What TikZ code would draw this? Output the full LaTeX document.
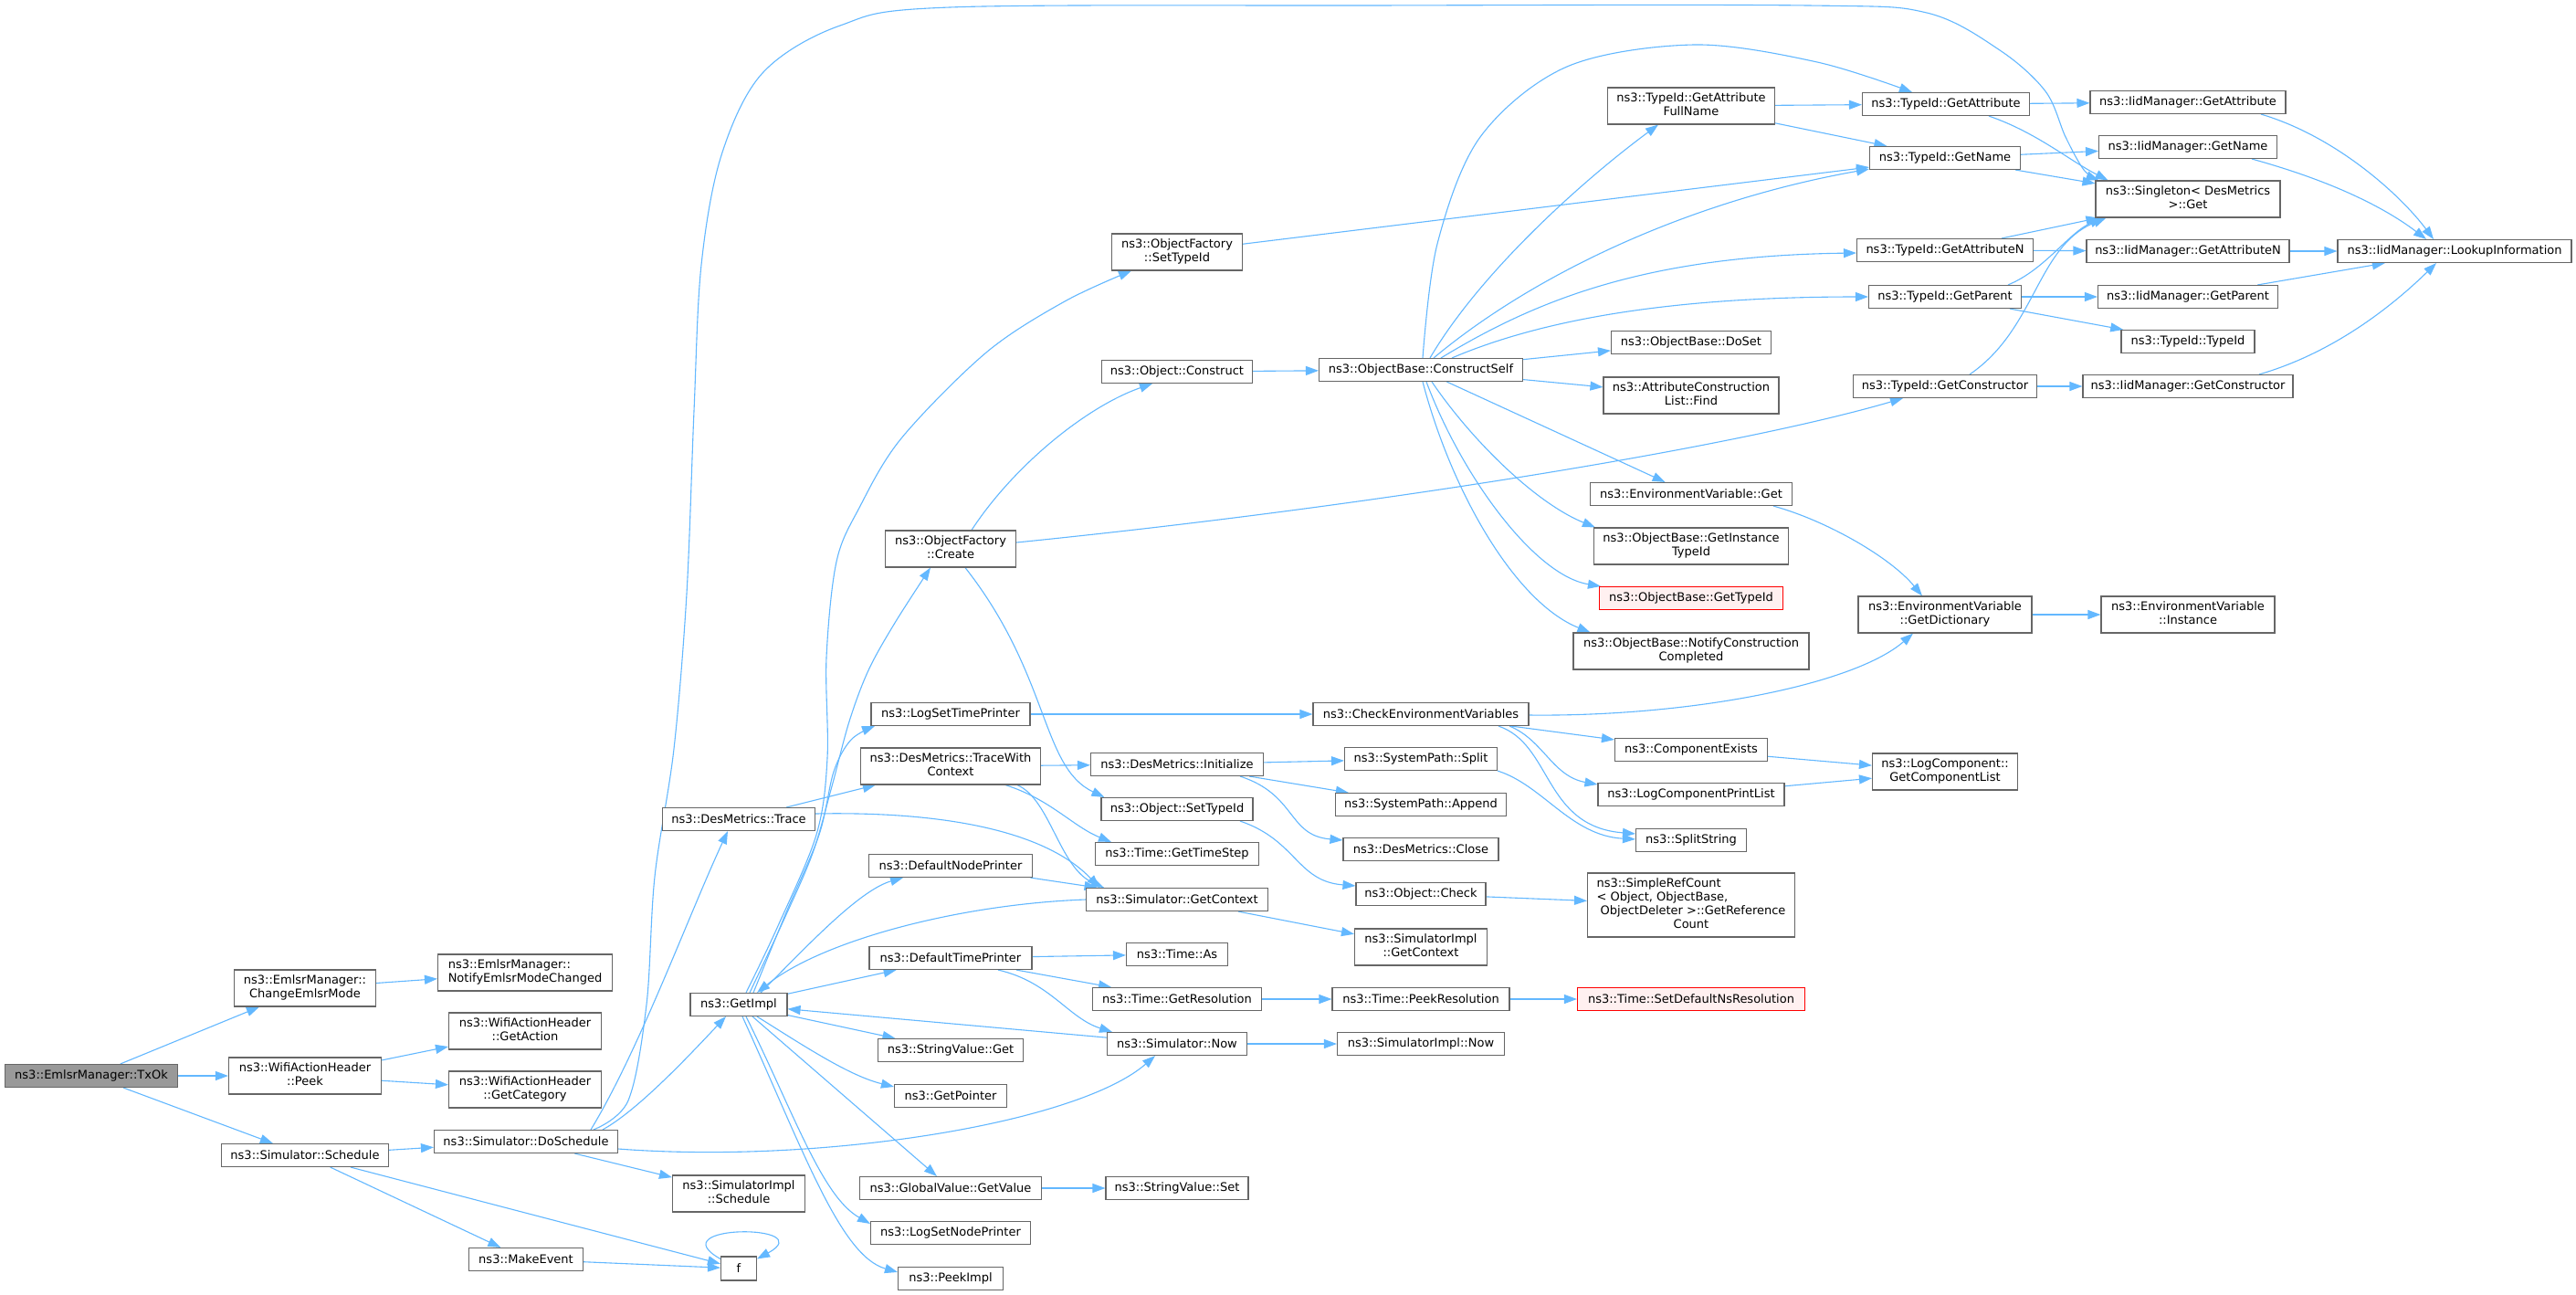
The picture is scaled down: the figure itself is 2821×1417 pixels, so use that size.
\documentclass[tikz,border=0pt]{standalone}
\usepackage{fontspec}
\setmainfont{DejaVu Sans}
\usetikzlibrary{arrows.meta}
\definecolor{edgeblue}{HTML}{63B8FF}
\definecolor{boxgray}{HTML}{666666}
\definecolor{rootfill}{HTML}{999999}
\definecolor{redfill}{HTML}{FFF0F0}
\newcommand{\ml}[2]{\begin{tabular}{@{}l@{}}#1\\\multicolumn{1}{@{}c@{}}{#2}\end{tabular}}
\pgfdeclarelayer{bg}
\pgfsetlayers{bg,main}
\begin{document}
\begin{tikzpicture}[x=1pt,y=-1pt,
  fn/.style={draw=boxgray, fill=white, line width=1.1pt, inner sep=0pt, minimum height=25pt,
    font=\fontsize{13pt}{15pt}\selectfont, text=black},
  two/.style={minimum height=40pt},
  wd/.style={minimum width=#1pt},
  rootnode/.style={fill=rootfill},
  missing/.style={draw=red, fill=redfill},
  call/.style={draw=edgeblue, line width=1.1pt, -{Triangle[length=14pt,width=10pt]}},
]
% ---------- nodes ----------
\node[fn,rootnode,wd=189] (txok) at (100,1178) {ns3::EmlsrManager::TxOk};
\node[fn,two,wd=155] (chg) at (334,1082) {\ml{ns3::EmlsrManager::}{ChangeEmlsrMode}};
\node[fn,two,wd=167] (peek) at (334,1178) {\ml{ns3::WifiActionHeader}{::Peek}};
\node[fn,wd=183] (sched) at (334,1265) {ns3::Simulator::Schedule};
\node[fn,two,wd=191] (notify) at (575,1065) {\ml{ns3::EmlsrManager::}{NotifyEmlsrModeChanged}};
\node[fn,two,wd=167] (getact) at (575,1129) {\ml{ns3::WifiActionHeader}{::GetAction}};
\node[fn,two,wd=167] (getcat) at (575,1193) {\ml{ns3::WifiActionHeader}{::GetCategory}};
\node[fn,wd=201] (dosched) at (576,1250) {ns3::Simulator::DoSchedule};
\node[fn,wd=125] (mkev) at (576,1379) {ns3::MakeEvent};
\node[fn,wd=167] (dtrace) at (809,897) {ns3::DesMetrics::Trace};
\node[fn,wd=106] (getimpl) at (809,1100) {ns3::GetImpl};
\node[fn,two,wd=145] (sisched) at (809,1307) {\ml{ns3::SimulatorImpl}{::Schedule}};
\node[fn,wd=39,minimum height=26pt] (ff) at (809,1389) {f};
\node[fn,two,wd=143] (create) at (1041,601) {\ml{ns3::ObjectFactory}{::Create}};
\node[fn,wd=174] (lstp) at (1041,782) {ns3::LogSetTimePrinter};
\node[fn,two,wd=197] (twc) at (1041,839) {\ml{ns3::DesMetrics::TraceWith}{Context}};
\node[fn,wd=179] (dnp) at (1041,948) {ns3::DefaultNodePrinter};
\node[fn,wd=178] (dtp) at (1041,1049) {ns3::DefaultTimePrinter};
\node[fn,wd=159] (svget) at (1041,1150) {ns3::StringValue::Get};
\node[fn,wd=123] (getptr) at (1041,1200) {ns3::GetPointer};
\node[fn,wd=199] (gvget) at (1041,1301) {ns3::GlobalValue::GetValue};
\node[fn,wd=175] (lsnp) at (1041,1350) {ns3::LogSetNodePrinter};
\node[fn,wd=115] (peekimpl) at (1041,1400) {ns3::PeekImpl};
\node[fn,two,wd=143] (ofsti) at (1289,276) {\ml{ns3::ObjectFactory}{::SetTypeId}};
\node[fn,wd=165] (oconstruct) at (1289,407) {ns3::Object::Construct};
\node[fn,wd=189] (init) at (1289,837) {ns3::DesMetrics::Initialize};
\node[fn,wd=166] (osti) at (1289,886) {ns3::Object::SetTypeId};
\node[fn,wd=179] (gts) at (1289,935) {ns3::Time::GetTimeStep};
\node[fn,wd=199] (sgc) at (1289,985) {ns3::Simulator::GetContext};
\node[fn,wd=111] (tas) at (1289,1045) {ns3::Time::As};
\node[fn,wd=185] (getres) at (1289,1094) {ns3::Time::GetResolution};
\node[fn,wd=153] (simnow) at (1289,1143) {ns3::Simulator::Now};
\node[fn,wd=156] (svset) at (1289,1301) {ns3::StringValue::Set};
\node[fn,wd=223] (cself) at (1556,405) {ns3::ObjectBase::ConstructSelf};
\node[fn,wd=236] (checkenv) at (1556,782) {ns3::CheckEnvironmentVariables};
\node[fn,wd=167] (split) at (1556,831) {ns3::SystemPath::Split};
\node[fn,wd=187] (append) at (1556,881) {ns3::SystemPath::Append};
\node[fn,wd=170] (close) at (1556,930) {ns3::DesMetrics::Close};
\node[fn,wd=142] (ocheck) at (1556,979) {ns3::Object::Check};
\node[fn,two,wd=145] (sigc) at (1556,1037) {\ml{ns3::SimulatorImpl}{::GetContext}};
\node[fn,wd=194] (peekres) at (1556,1094) {ns3::Time::PeekResolution};
\node[fn,wd=183] (sinow) at (1556,1143) {ns3::SimulatorImpl::Now};
\node[fn,two,wd=183] (gafn) at (1852,116) {\ml{ns3::TypeId::GetAttribute}{FullName}};
\node[fn,wd=175] (doset) at (1852,375) {ns3::ObjectBase::DoSet};
\node[fn,two,wd=192] (attrfind) at (1852,433) {\ml{ns3::AttributeConstruction}{List::Find}};
\node[fn,wd=221] (envget) at (1852,541) {ns3::EnvironmentVariable::Get};
\node[fn,two,wd=213] (git) at (1852,598) {\ml{ns3::ObjectBase::GetInstance}{TypeId}};
\node[fn,missing,wd=201] (gti) at (1852,655) {ns3::ObjectBase::GetTypeId};
\node[fn,two,wd=258] (ncc) at (1852,713) {\ml{ns3::ObjectBase::NotifyConstruction}{Completed}};
\node[fn,wd=167] (compex) at (1852,821) {ns3::ComponentExists};
\node[fn,wd=204] (lcpl) at (1852,870) {ns3::LogComponentPrintList};
\node[fn,wd=121] (splitstr) at (1852,920) {ns3::SplitString};
\node[fn,wd=227,minimum height=70pt] (src) at (1852,991) {\begin{tabular}{@{}l@{}}ns3::SimpleRefCount\\< Object, ObjectBase,\\\ ObjectDeleter >::GetReference\\\multicolumn{1}{@{}c@{}}{Count}\end{tabular}};
\node[fn,missing,wd=249] (setdef) at (1852,1094) {ns3::Time::SetDefaultNsResolution};
\node[fn,wd=183] (tga) at (2131,114) {ns3::TypeId::GetAttribute};
\node[fn,wd=165] (tgn) at (2130,173) {ns3::TypeId::GetName};
\node[fn,wd=193] (tgan) at (2130,274) {ns3::TypeId::GetAttributeN};
\node[fn,wd=167] (tgp) at (2130,325) {ns3::TypeId::GetParent};
\node[fn,wd=201] (tgc) at (2130,423) {ns3::TypeId::GetConstructor};
\node[fn,two,wd=190] (getdict) at (2130,673) {\ml{ns3::EnvironmentVariable}{::GetDictionary}};
\node[fn,two,wd=159] (gcl) at (2130,845) {\ml{ns3::LogComponent::}{GetComponentList}};
\node[fn,wd=214] (iga) at (2396,112) {ns3::IidManager::GetAttribute};
\node[fn,wd=195] (ign) at (2396,161) {ns3::IidManager::GetName};
\node[fn,two,wd=202] (singleton) at (2396,218) {\ml{ns3::Singleton< DesMetrics}{>::Get}};
\node[fn,wd=222] (igan) at (2396,275) {ns3::IidManager::GetAttributeN};
\node[fn,wd=197] (igp) at (2396,325) {ns3::IidManager::GetParent};
\node[fn,wd=146] (ttid) at (2396,374) {ns3::TypeId::TypeId};
\node[fn,wd=230] (igc) at (2396,423) {ns3::IidManager::GetConstructor};
\node[fn,two,wd=190] (inst) at (2396,673) {\ml{ns3::EnvironmentVariable}{::Instance}};
\node[fn,wd=256] (lookup) at (2688,275) {ns3::IidManager::LookupInformation};
% ---------- edges ----------
\begin{pgfonlayer}{bg}
\fill[white] (0,0) rectangle (2821,1417);
\useasboundingbox (0,0) rectangle (2821,1417);
% straight connectors
\draw[call] (txok) -- (chg);
\draw[call] (txok) -- (peek);
\draw[call] (txok) -- (sched);
\draw[call] (chg) -- (notify);
\draw[call] (peek) -- (getact);
\draw[call] (peek) -- (getcat);
\draw[call] (sched) -- (dosched);
\draw[call] (sched) -- (mkev);
\draw[call] (sched) -- (ff);
\draw[call] (mkev) -- (ff);
\draw[call] (dosched) -- (sisched);
\draw[call] (dtrace) -- (twc);
\draw[call] (twc) -- (init);
\draw[call] (dnp) -- (sgc);
\draw[call] (sgc) -- (sigc);
\draw[call] (getimpl) -- (dtp);
\draw[call] (getimpl) -- (svget);
\draw[call] (getimpl) -- (gvget);
\draw[call] (dtp) -- (tas);
\draw[call] (dtp) -- (getres);
\draw[call] (simnow) -- (getimpl);
\draw[call] (getres) -- (peekres);
\draw[call] (peekres) -- (setdef);
\draw[call] (simnow) -- (sinow);
\draw[call] (gvget) -- (svset);
\draw[call] (lstp) -- (checkenv);
\draw[call] (checkenv) -- (compex);
\draw[call] (ofsti) -- (tgn);
\draw[call] (oconstruct) -- (cself);
\draw[call] (cself) -- (doset);
\draw[call] (cself) -- (attrfind);
\draw[call] (cself) -- (envget);
\draw[call] (gafn) -- (tga);
\draw[call] (gafn) -- (tgn);
\draw[call] (tga) -- (iga);
\draw[call] (tgn) -- (ign);
\draw[call] (tgn) -- (singleton);
\draw[call] (tgan) -- (igan);
\draw[call] (tgan) -- (singleton);
\draw[call] (tgp) -- (igp);
\draw[call] (tgp) -- (ttid);
\draw[call] (tgc) -- (igc);
\draw[call] (igan) -- (lookup);
\draw[call] (igp) -- (lookup);
\draw[call] (getdict) -- (inst);
\draw[call] (compex) -- (gcl);
\draw[call] (lcpl) -- (gcl);
\draw[call] (init) -- (split);
\draw[call] (init) -- (append);
\draw[call] (ocheck) -- (src);
% self loop
\draw[call] ([yshift=-3pt]ff.north west) .. controls (720,1340) and (900,1340) .. ([yshift=-3pt]ff.north east);
% curved connectors
\draw[call] ([xshift=71pt]dosched.north) .. controls (700,1150) and (755,1000) .. ([xshift=-12pt]dtrace.south);
\draw[call] ([xshift=84pt]dosched.north) .. controls (700,1215) and (760,1150) .. ([xshift=-14pt]getimpl.south);
\draw[call] plot[smooth,tension=0.55] coordinates {([xshift=74pt]dosched.north) (688,1205) (708,1100) (717,960) (738,820) (752,650) (760,450) (768,290) (790,170) (835,80) (920,28) (1040,8) (1500,6) (1980,6) (2110,14) (2190,55) (2240,100) (2262,150) (2282,186) ([xshift=4pt]singleton.north west)};
\draw[call] ([yshift=-8pt]dosched.east) .. controls (900,1275) and (1180,1230) .. ([xshift=-24pt]simnow.south);
\draw[call] ([yshift=6pt]dtrace.east) .. controls (1050,888) and (1150,915) .. ([xshift=-85pt]sgc.north);
\draw[call] ([xshift=60pt]twc.south) .. controls (1150,875) and (1175,905) .. ([xshift=-72pt]gts.north);
\draw[call] ([xshift=73pt]twc.south) .. controls (1150,875) and (1160,950) .. ([xshift=-80pt]sgc.north);
\draw[call] (sgc.west) .. controls (1050,990) and (900,1030) .. ([xshift=20pt]getimpl.north);
\draw[call] ([xshift=52pt]dtp.south) .. controls (1150,1075) and (1170,1115) .. ([xshift=-71pt]simnow.north);
\draw[call] plot[smooth,tension=0.55] coordinates {([xshift=8pt]getimpl.north) (851,1016) (894,914) (906,830) (905,720) (916,615) (941,556) (987,480) (1080,386) (1166,330) ([xshift=-50pt]ofsti.south)};
\draw[call] plot[smooth,tension=0.55] coordinates {([xshift=12pt]getimpl.north) (858,1008) (890,934) (911,861) (930,790) (951,734) (980,682) ([xshift=-22pt]create.south)};
\draw[call] plot[smooth,tension=0.55] coordinates {([xshift=16pt]getimpl.north) (861,999) (897,914) (913,845) (932,810) ([xshift=-83pt]lstp.south)};
\draw[call] ([xshift=24pt]getimpl.north) .. controls (880,1040) and (940,975) .. ([xshift=-52pt]dnp.south);
\draw[call] ([xshift=20pt]getimpl.south) .. controls (880,1145) and (930,1178) .. ([yshift=-3pt]getptr.north west);
\draw[call] ([xshift=8pt]getimpl.south) .. controls (870,1220) and (900,1310) .. ([yshift=-3pt]lsnp.north west);
\draw[call] ([xshift=4pt]getimpl.south) .. controls (880,1260) and (920,1375) .. ([yshift=-6pt]peekimpl.north west);
\draw[call] ([xshift=23pt]create.north) .. controls (1110,510) and (1190,445) .. ([xshift=-27pt]oconstruct.south);
\draw[call] ([yshift=7pt]create.east) .. controls (1500,555) and (1900,490) .. ([xshift=-46pt]tgc.south);
\draw[call] ([xshift=16pt]create.south) .. controls (1150,740) and (1140,840) .. ([xshift=4pt]osti.north west);
\draw[call] ([xshift=10pt]cself.north) .. controls (1620,300) and (1730,200) .. ([xshift=-36pt]gafn.south);
\draw[call] plot[smooth,tension=0.55] coordinates {([xshift=2pt]cself.north) (1574,267) (1621,150) (1716,73) (1855,49) (1990,68) ([xshift=-37pt]tga.north)};
\draw[call] ([xshift=14pt]cself.north) .. controls (1680,300) and (1850,220) .. ([yshift=1pt]tgn.south west);
\draw[call] ([xshift=22pt]cself.north) .. controls (1680,330) and (1800,280) .. ([yshift=-3pt]tgan.west);
\draw[call] ([xshift=34pt]cself.north) .. controls (1700,345) and (1850,325) .. (tgp.west);
\draw[call] ([xshift=12pt]cself.south) .. controls (1610,480) and (1680,550) .. ([xshift=2pt]git.north west);
\draw[call] ([xshift=6pt]cself.south) .. controls (1600,520) and (1680,630) .. ([xshift=2pt]gti.north west);
\draw[call] ([xshift=2pt]cself.south) .. controls (1590,540) and (1660,660) .. ([xshift=19pt]ncc.north west);
\draw[call] ([xshift=47pt]tga.south) .. controls (2230,145) and (2265,175) .. ([xshift=14pt]singleton.north west);
\draw[call] ([xshift=69pt]tgp.north) .. controls (2240,295) and (2265,255) .. ([xshift=8pt]singleton.south west);
\draw[call] ([xshift=27pt]tgc.north) .. controls (2230,360) and (2230,270) .. ([xshift=12pt]singleton.south west);
\draw[call] ([xshift=80pt]iga.south) .. controls (2560,150) and (2630,215) .. ([xshift=-23pt]lookup.north);
\draw[call] ([xshift=70pt]ign.south) .. controls (2560,200) and (2615,230) .. ([xshift=-31pt]lookup.north);
\draw[call] ([xshift=78pt]igc.north) .. controls (2560,385) and (2625,330) .. ([xshift=-20pt]lookup.south);
\draw[call] ([xshift=90pt]envget.south) .. controls (2000,570) and (2070,610) .. ([xshift=-25pt]getdict.north);
\draw[call] ([yshift=-1pt]checkenv.east) .. controls (1850,785) and (2030,750) .. ([xshift=-35pt]getdict.south);
\draw[call] ([xshift=97pt]checkenv.south) .. controls (1690,810) and (1700,850) .. ([yshift=-2pt]lcpl.north west);
\draw[call] ([xshift=85pt]checkenv.south) .. controls (1700,815) and (1690,905) .. ([yshift=-6pt]splitstr.north west);
\draw[call] (split.south east) .. controls (1690,860) and (1720,915) .. ([yshift=-12pt]splitstr.north west);
\draw[call] ([xshift=69pt]init.south) .. controls (1420,870) and (1410,915) .. ([yshift=-3pt]close.north west);
\draw[call] ([xshift=69pt]osti.south) .. controls (1420,920) and (1420,965) .. ([yshift=-4pt]ocheck.north west);
\end{pgfonlayer}
\end{tikzpicture}
\end{document}
